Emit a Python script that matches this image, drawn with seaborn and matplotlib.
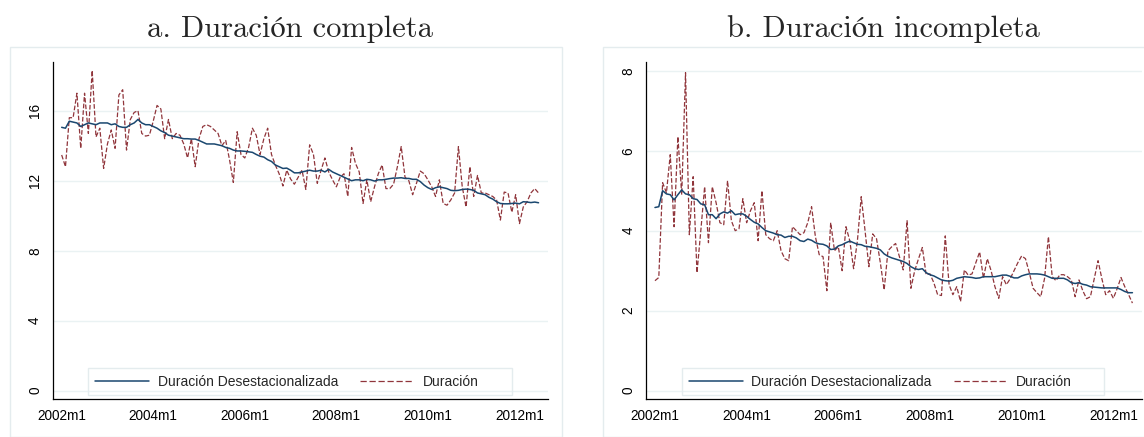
import numpy as np
import pandas as pd
import matplotlib
matplotlib.use('Agg')
import matplotlib.pyplot as plt
from matplotlib.patches import Rectangle
from matplotlib.lines import Line2D
import seaborn as sns

# Monthly series, 2002m1 - 2012m6
months = pd.period_range('2002-01', periods=126, freq='M')

dur_completa = [
    13.47, 12.8, 15.6, 15.6, 17.0, 13.85, 17.0, 14.7, 18.3, 14.5,
    15.0, 12.7, 14.1, 14.9, 13.85, 16.9, 17.2, 13.75, 15.5, 15.9,
    16.0, 14.7, 14.55, 14.6, 15.4, 16.3, 16.1, 14.4, 15.5, 14.4,
    14.7, 14.6, 14.1, 13.3, 14.4, 12.8, 14.4, 15.1, 15.2, 15.1,
    14.9, 14.7, 14.0, 14.3, 13.2, 11.9, 14.8, 13.5, 13.3, 13.9,
    15.0, 14.6, 13.5, 14.4, 15.0, 13.5, 12.9, 12.4, 11.7, 12.6,
    12.1, 11.8, 12.2, 12.6, 11.5, 14.05, 13.5, 11.85, 12.6, 13.3,
    12.5, 12.05, 11.65, 12.2, 12.4, 11.1, 13.9, 13.0, 12.5, 10.7,
    12.05, 10.8, 11.65, 12.4, 12.9, 11.55, 11.55, 11.8, 12.8, 13.95,
    12.2, 12.0, 11.2, 11.85, 12.55, 12.4, 12.05, 11.65, 11.1, 12.05,
    10.7, 10.6, 10.9, 11.3, 13.95, 11.65, 10.5, 12.8, 11.1, 12.3,
    11.3, 11.3, 11.2, 11.1, 10.9, 9.75, 11.35, 11.3, 10.2, 11.2,
    9.55, 10.5, 10.8, 11.3, 11.55, 11.3]

dur_completa_sa = [
    15.05, 15.0, 15.4, 15.35, 15.3, 15.1, 15.2, 15.3, 15.25, 15.2,
    15.3, 15.3, 15.3, 15.2, 15.25, 15.1, 15.05, 15.05, 15.2, 15.3,
    15.5, 15.3, 15.2, 15.2, 15.1, 15.0, 14.85, 14.75, 14.6, 14.55,
    14.5, 14.45, 14.4, 14.4, 14.38, 14.38, 14.3, 14.2, 14.1, 14.1,
    14.1, 14.05, 14.0, 13.9, 13.85, 13.75, 13.7, 13.7, 13.68, 13.65,
    13.62, 13.5, 13.4, 13.35, 13.2, 13.1, 12.9, 12.8, 12.7, 12.72,
    12.6, 12.45, 12.45, 12.5, 12.55, 12.6, 12.55, 12.55, 12.6, 12.5,
    12.65, 12.5, 12.4, 12.3, 12.2, 12.1, 12.0, 12.05, 12.05, 12.0,
    12.08, 12.05, 11.98, 12.05, 12.05, 12.08, 12.12, 12.15, 12.15, 12.17,
    12.13, 12.13, 12.08, 12.08, 11.95, 11.75, 11.6, 11.5, 11.6, 11.65,
    11.6, 11.55, 11.45, 11.43, 11.45, 11.5, 11.52, 11.5, 11.45, 11.3,
    11.25, 11.2, 11.05, 10.95, 10.8, 10.7, 10.68, 10.68, 10.7, 10.72,
    10.68, 10.8, 10.78, 10.75, 10.78, 10.74]

dur_incompleta = [
    2.75, 2.83, 5.2, 4.95, 5.9, 4.1, 6.35, 4.9, 7.95, 3.9,
    5.35, 2.95, 4.0, 5.1, 3.7, 5.1, 4.7, 4.2, 4.15, 5.25,
    4.25, 4.0, 4.05, 4.8, 4.2, 4.5, 4.7, 3.75, 5.0, 3.9,
    3.8, 3.75, 4.0, 3.5, 3.3, 3.25, 4.1, 4.0, 3.9, 3.95,
    4.2, 4.6, 3.85, 3.4, 3.35, 2.5, 4.2, 3.5, 3.6, 3.0,
    4.1, 3.75, 3.05, 3.75, 4.85, 4.0, 3.1, 3.92, 3.8, 3.2,
    2.52, 3.5, 3.6, 3.68, 3.35, 3.02, 4.25, 2.56, 3.0, 3.3,
    3.58, 2.9, 2.92, 2.7, 2.4, 2.38, 3.87, 2.65, 2.4, 2.6,
    2.23, 3.02, 2.89, 2.92, 3.2, 3.47, 2.81, 3.3, 3.0, 2.6,
    2.31, 2.85, 2.65, 2.8, 3.0, 3.2, 3.37, 3.3, 2.95, 2.56,
    2.45, 2.35, 2.81, 3.85, 2.85, 2.75, 2.9, 2.9, 2.85, 2.77,
    2.35, 2.77, 2.5, 2.3, 2.35, 2.8, 3.25, 2.8, 2.4, 2.5,
    2.31, 2.55, 2.83, 2.6, 2.4, 2.19]

dur_incompleta_sa = [
    4.58, 4.6, 5.0, 4.92, 4.9, 4.77, 4.9, 5.02, 4.92, 4.9,
    4.8, 4.78, 4.67, 4.65, 4.4, 4.4, 4.3, 4.42, 4.47, 4.44,
    4.5, 4.4, 4.42, 4.42, 4.36, 4.28, 4.21, 4.17, 4.08, 4.0,
    3.97, 3.94, 3.9, 3.89, 3.83, 3.86, 3.86, 3.82, 3.75, 3.73,
    3.79, 3.76, 3.7, 3.67, 3.66, 3.62, 3.53, 3.54, 3.62, 3.65,
    3.7, 3.74, 3.7, 3.66, 3.65, 3.61, 3.6, 3.58, 3.56, 3.52,
    3.42, 3.36, 3.32, 3.29, 3.26, 3.23, 3.18, 3.1, 3.05, 3.03,
    3.05, 2.95, 2.9, 2.87, 2.82, 2.77, 2.75, 2.74, 2.76, 2.81,
    2.83, 2.85, 2.84, 2.83, 2.81, 2.82, 2.85, 2.85, 2.85, 2.85,
    2.87, 2.89, 2.89, 2.86, 2.82, 2.82, 2.87, 2.9, 2.92, 2.92,
    2.92, 2.91, 2.89, 2.85, 2.81, 2.81, 2.81, 2.81, 2.77, 2.7,
    2.68, 2.7, 2.66, 2.64, 2.6, 2.59, 2.58, 2.57, 2.57, 2.57,
    2.57, 2.57, 2.53, 2.48, 2.45, 2.45]

titles = ['a. Duración completa', 'b. Duración incompleta']
legend_labels = ['Duración Desestacionalizada', 'Duración']
yticks_left = [0, 4, 8, 12, 16]
yticks_right = [0, 2, 4, 6, 8]
xtick_months = ['2002-01', '2004-01', '2006-01', '2008-01', '2010-01', '2012-01']

W, H = 1144, 437
BLUE = '#1a476f'
RED = '#90353b'
GRID = '#eaf2f3'
FRAME = '#e4ecee'
SANS = ['Liberation Sans', 'DejaVu Sans']
SERIF = ['cmr10', 'STIXGeneral', 'DejaVu Serif']


def fx(px):
    return px / W


def fy(py):
    '''pixel measured from the top -> figure fraction'''
    return 1 - py / H


def add_box(fig, x0, y0, x1, y1, color):
    '''
    Args: fig, pixel box (top-left origin), colour
    Draws an outline in figure coordinates.
    '''
    fig.patches.append(Rectangle((fx(x0), fy(y1)), fx(x1 - x0), (y1 - y0) / H,
                                 transform=fig.transFigure, fill=False,
                                 edgecolor=color, linewidth=1.0, zorder=0))


def draw_panel(ax, df, yticks, ylim):
    '''
    Args: axes, long dataframe, list, tuple
    Draws both series of one panel in Stata s2color style.
    '''
    sns.lineplot(data=df[df.serie == legend_labels[0]], x='t', y='valor', ax=ax,
                 color=BLUE, linewidth=1.1, zorder=3)
    sns.lineplot(data=df[df.serie == legend_labels[1]], x='t', y='valor', ax=ax,
                 color=RED, linewidth=0.9, dashes=(5, 2.2), linestyle='--', zorder=2)

    ax.set_xlim(-2.35, 127.4)
    ax.set_ylim(*ylim)
    ax.set_yticks(yticks)
    ax.set_yticklabels([str(v) for v in yticks], rotation=90, va='center',
                       family=SANS, fontsize=9.8)
    xt = [months.get_loc(pd.Period(m, freq='M')) for m in xtick_months]
    ax.set_xticks(xt)
    ax.set_xticklabels([f'{months[i].year}m{months[i].month}' for i in xt],
                       family=SANS, fontsize=9.8)
    ax.set_xlabel('')
    ax.set_ylabel('')

    ax.grid(axis='y', color=GRID, linewidth=1.0)
    ax.grid(axis='x', visible=False)
    ax.set_axisbelow(True)
    for side in ['top', 'right']:
        ax.spines[side].set_visible(False)
    for side in ['left', 'bottom']:
        ax.spines[side].set_color('black')
        ax.spines[side].set_linewidth(0.9)
    ax.tick_params(axis='both', direction='out', length=3.6, width=0.8,
                   color='black', labelcolor='black')
    ax.tick_params(axis='y', pad=4)
    ax.tick_params(axis='x', pad=3.5)
    ax.set_facecolor('white')


if __name__ == "__main__":
    sns.set_theme(style='white')
    plt.rcParams['font.family'] = SANS

    t = np.arange(len(months))
    df_a = pd.DataFrame({'t': np.concatenate([t, t]),
                         'valor': dur_completa_sa + dur_completa,
                         'serie': [legend_labels[0]] * len(t) + [legend_labels[1]] * len(t)})
    df_b = pd.DataFrame({'t': np.concatenate([t, t]),
                         'valor': dur_incompleta_sa + dur_incompleta,
                         'serie': [legend_labels[0]] * len(t) + [legend_labels[1]] * len(t)})

    fig = plt.figure(figsize=(W / 100, H / 100), dpi=100)
    fig.patch.set_facecolor('white')

    ax_top, ax_bot = 61.7, 399.3
    ax1 = fig.add_axes([fx(52.7), fy(ax_bot), fx(547.7 - 52.7), (ax_bot - ax_top) / H])
    ax2 = fig.add_axes([fx(646.0), fy(ax_bot), fx(1141.6 - 646.0), (ax_bot - ax_top) / H])

    draw_panel(ax1, df_a, yticks_left, (-0.49, 18.8))
    draw_panel(ax2, df_b, yticks_right, (-0.215, 8.225))

    # Panel frames and titles
    add_box(fig, 10, 47.3, 561.7, 436.5, FRAME)
    add_box(fig, 603, 47.3, 1160, 436.5, FRAME)
    fig.text(fx(290), fy(36.7), titles[0], ha='center', va='baseline',
             family=SERIF, fontsize=22)
    fig.text(fx(883), fy(36.7), titles[1], ha='center', va='baseline',
             family=SERIF, fontsize=22)

    # Legends: keys in figure coordinates, box drawn separately
    handles = [Line2D([], [], color=BLUE, linewidth=1.1),
               Line2D([], [], color=RED, linewidth=0.9, linestyle=(0, (5, 2.2)))]
    for ax, x_key, box in [(ax1, 95, (88, 368, 511.7, 395)),
                           (ax2, 688.5, (681.5, 368, 1104.3, 395))]:
        leg = ax.legend(handles, legend_labels, loc='center left',
                        bbox_to_anchor=(fx(x_key), fy(381.5)),
                        bbox_transform=fig.transFigure, ncol=2, frameon=False,
                        borderpad=0, borderaxespad=0, handlelength=3.9,
                        handletextpad=0.6, columnspacing=1.6,
                        prop={'family': SANS, 'size': 10})
        add_box(fig, *box, FRAME)

    plt.savefig('out.png', dpi=100, facecolor='white')
